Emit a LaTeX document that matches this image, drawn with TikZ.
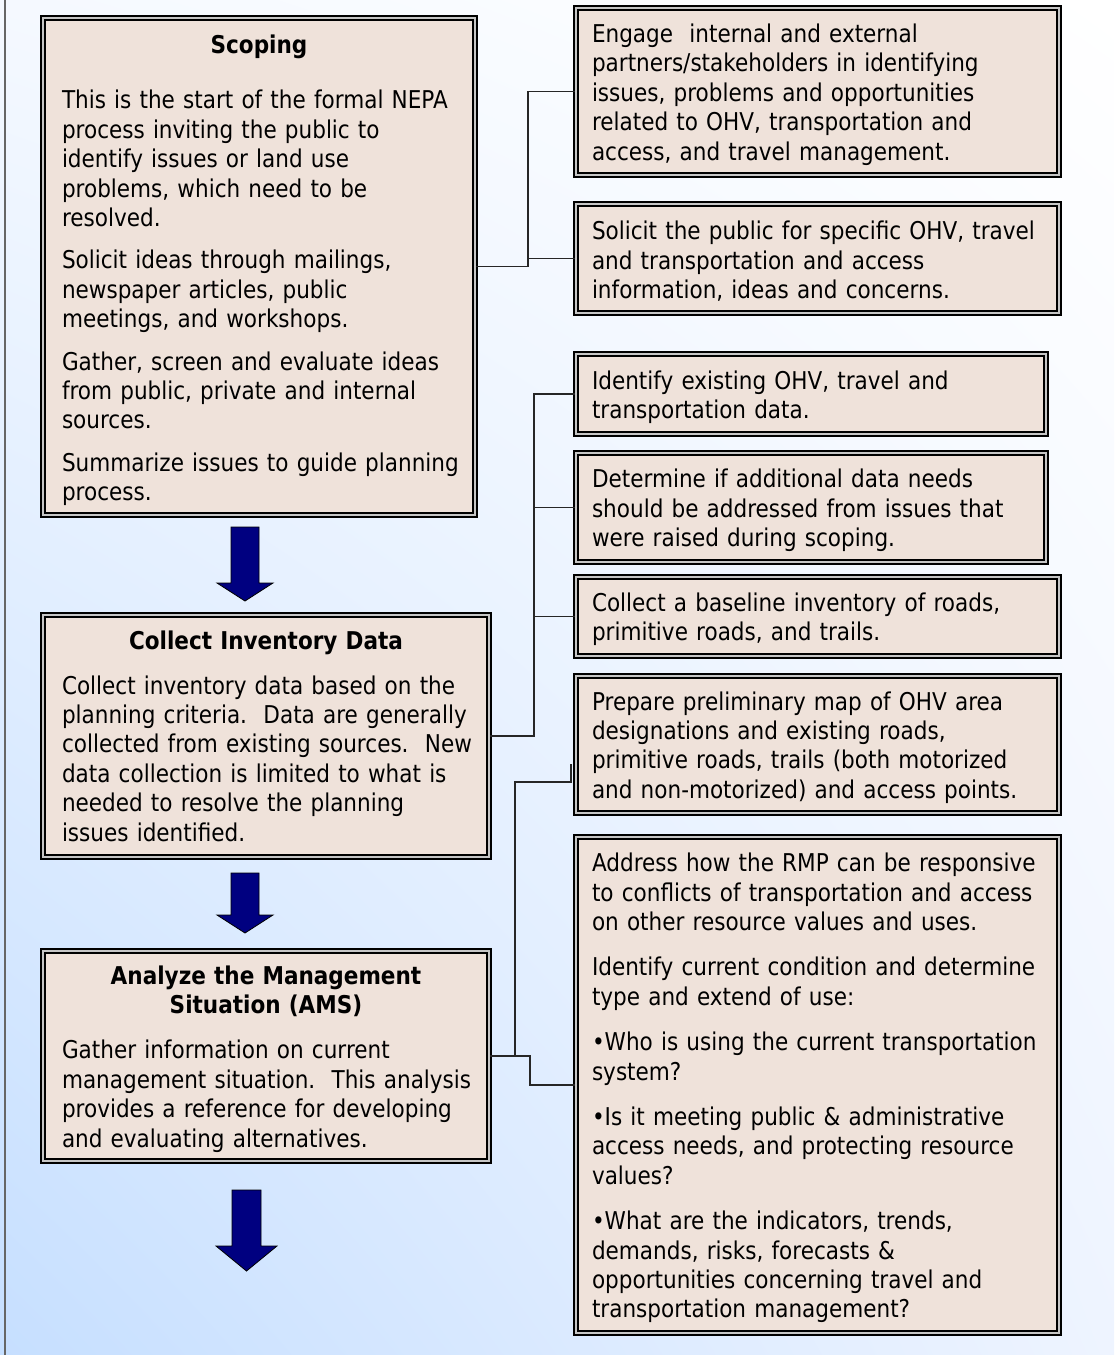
\documentclass[tikz,border=0pt]{standalone}
\usepackage{fontspec}
\setmainfont{DejaVu Sans}[FakeStretch=0.88]
\usetikzlibrary{calc,shadings}
\definecolor{boxfill}{HTML}{EFE2DA}
\definecolor{arrowblue}{HTML}{000080}
\definecolor{bgTL}{HTML}{F5F9FF}
\definecolor{bgBL}{HTML}{C6DFFF}
\definecolor{bgBR}{HTML}{EEF4FF}
\newcommand\padl[2][3]{\raggedright\leftskip=#2pt\relax\rightskip=-40pt plus 1fil\relax\frenchspacing\leavevmode\rule{0pt}{\dimexpr18.6pt+#1pt*2\relax}}
\newcommand\heading[2][15.5]{{\centering\bfseries #2\par}\vspace{#1pt}}
\begin{document}
\begin{tikzpicture}[x=1pt,y=-1pt,
  panel/.style 2 args={draw=black, line width=2pt, double=gray!45, double distance=2pt,
    fill=boxfill, inner sep=0pt, minimum width=#1, text width=#1, minimum height=#2,
    font=\fontsize{24.5pt}{29.4pt}\selectfont},
  conn/.style={draw=black!85, line width=1.3pt},
  blockarrow/.style={fill=arrowblue, draw=black, line width=0.8pt}]
\useasboundingbox (0,0) rectangle (1114,1355);
\shade[upper left=bgTL, upper right=white, lower left=bgBL, lower right=bgBR] (0,0) rectangle (1114,1355);
\draw[draw=black!60, line width=1.5pt] (5,0) -- (5,1355);

% left column
\node[panel={432pt}{497pt}] (S) at (259,266.5) {\padl[3.75]{19}\heading[26]{Scoping}%
This is the start of the formal NEPA\\
process inviting the public to\\
identify issues or land use\\
problems, which need to be\\
resolved.\\[13pt]
Solicit ideas through mailings,\\
newspaper articles, public\\
meetings, and workshops.\\[13pt]
Gather, screen and evaluate ideas\\
from public, private and internal\\
sources.\\[13pt]
Summarize issues to guide planning\\
process.\par};

\node[panel={446pt}{242pt}] (C) at (266,736) {\padl[0]{19}\heading{Collect Inventory Data}%
Collect inventory data based on the\\
planning criteria.\ \ Data are generally\\
collected from existing sources.\ \ New\\
data collection is limited to what is\\
needed to resolve the planning\\
issues identified.\par};

\node[panel={446pt}{210pt}] (A) at (266,1056) {\padl{19}\heading{Analyze the Management\\Situation (AMS)}%
Gather information on current\\
management situation.\ \ This analysis\\
provides a reference for developing\\
and evaluating alternatives.\par};

% block arrows
\draw[blockarrow] (231,527) -- (259,527) -- (259,583) -- (273,583) -- (245,601) -- (217,583) -- (231,583) -- cycle;
\draw[blockarrow] (231,873) -- (259,873) -- (259,915) -- (273,915) -- (245,933) -- (217,915) -- (231,915) -- cycle;
\draw[blockarrow] (232,1190) -- (261,1190) -- (261,1246) -- (277,1246) -- (246.5,1271) -- (216,1246) -- (232,1246) -- cycle;

% right column
\node[panel={483pt}{167pt}] (R1) at (817.5,91.5) {\padl{16}%
Engage\ \ internal and external\\
partners/stakeholders in identifying\\
issues, problems and opportunities\\
related to OHV, transportation and\\
access, and travel management.\par};

\node[panel={483pt}{109pt}] (R2) at (817.5,258.5) {\padl{16}%
Solicit the public for specific OHV, travel\\
and transportation and access\\
information, ideas and concerns.\par};

\node[panel={470pt}{80pt}] (R3) at (811,394) {\padl{16}%
Identify existing OHV, travel and\\
transportation data.\par};

\node[panel={470pt}{109pt}] (R4) at (811,507.5) {\padl{16}%
Determine if additional data needs\\
should be addressed from issues that\\
were raised during scoping.\par};

\node[panel={483pt}{79pt}] (R5) at (817.5,616.5) {\padl{16}%
Collect a baseline inventory of roads,\\
primitive roads, and trails.\par};

\node[panel={483pt}{137pt}] (R6) at (817.5,744.5) {\padl{16}%
Prepare preliminary map of OHV area\\
designations and existing roads,\\
primitive roads, trails (both motorized\\
and non-motorized) and access points.\par};

\node[panel={483pt}{496pt}] (R7) at (817.5,1085) {\padl{16}%
Address how the RMP can be responsive\\
to conflicts of transportation and access\\
on other resource values and uses.\\[16pt]
Identify current condition and determine\\
type and extend of use:\\[16pt]
•Who is using the current transportation\\
system?\\[16pt]
•Is it meeting public \& administrative\\
access needs, and protecting resource\\
values?\\[16pt]
•What are the indicators, trends,\\
demands, risks, forecasts \&\\
opportunities concerning travel and\\
transportation management?\par};

% connectors
\draw[conn] (S.east) -- ++(52,0) coordinate (jS) |- (R1.west);
\draw[conn] (jS |- R2.west) -- (R2.west);
\draw[conn] (C.east) -- ++(44,0) coordinate (jC) |- (R3.west);
\draw[conn] (jC |- R4.west) -- (R4.west);
\draw[conn] (jC |- R5.west) -- (R5.west);
\draw[conn] (A.east) -- ++(40,0) coordinate (jA) |- (R7.west);
\path (A.east) ++(25,0) coordinate (jA2);
\draw[conn] (jA2) |- ([xshift=-4pt,yshift=32pt]R6.south west) -- ++(0,-18);
\end{tikzpicture}
\end{document}
